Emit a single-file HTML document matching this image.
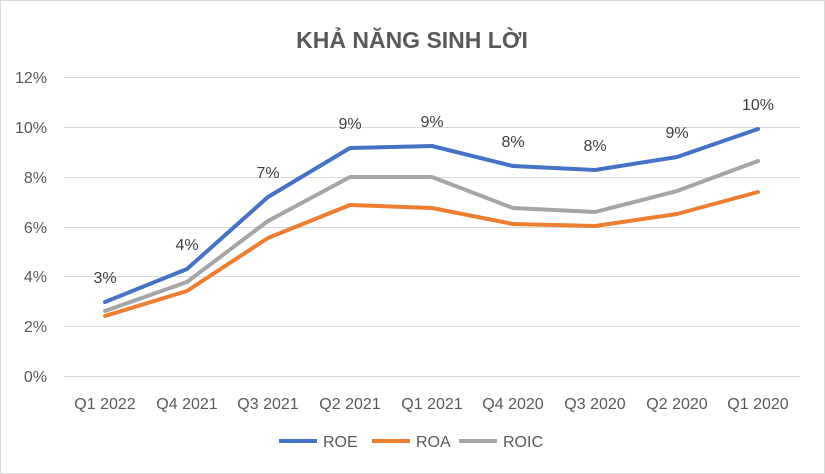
<!DOCTYPE html>
<html><head><meta charset="utf-8"><style>
body{margin:0;background:#fff;}
svg{display:block;font-family:"Liberation Sans","Noto Sans CJK SC",sans-serif;}
</style></head><body>
<svg width="825" height="474" viewBox="0 0 825 474">
<rect x="0.5" y="0.5" width="824" height="473" fill="#fff" stroke="#d9d9d9"/>
<text x="412" y="48" text-anchor="middle" font-size="23" font-weight="bold" fill="#595959">KHẢ NĂNG SINH LỜI</text>
<g stroke="#d9d9d9" stroke-width="1">
<line x1="64" x2="800" y1="77.5" y2="77.5"/>
<line x1="64" x2="800" y1="127.5" y2="127.5"/>
<line x1="64" x2="800" y1="177.5" y2="177.5"/>
<line x1="64" x2="800" y1="227.5" y2="227.5"/>
<line x1="64" x2="800" y1="276.5" y2="276.5"/>
<line x1="64" x2="800" y1="326.5" y2="326.5"/>
<line x1="64" x2="800" y1="376.5" y2="376.5"/>
</g>
<g font-size="16" fill="#595959" text-anchor="end">
<text x="47" y="83">12%</text>
<text x="47" y="133">10%</text>
<text x="47" y="183">8%</text>
<text x="47" y="233">6%</text>
<text x="47" y="282">4%</text>
<text x="47" y="332">2%</text>
<text x="47" y="382">0%</text>
</g>
<g font-size="16" fill="#595959" text-anchor="middle">
<text x="105" y="409">Q1 2022</text>
<text x="187" y="409">Q4 2021</text>
<text x="268" y="409">Q3 2021</text>
<text x="350" y="409">Q2 2021</text>
<text x="432" y="409">Q1 2021</text>
<text x="513" y="409">Q4 2020</text>
<text x="595" y="409">Q3 2020</text>
<text x="677" y="409">Q2 2020</text>
<text x="758" y="409">Q1 2020</text>
</g>
<g fill="none" stroke-width="4" stroke-linejoin="round" stroke-linecap="round">
<polyline stroke="#a5a5a5" points="105,311 187,282 268,221 350,177 432,177 513,208 595,212 677,191 758,161"/>
<polyline stroke="#ed7d31" points="105,316 187,291 268,238 350,205 432,208 513,224 595,226 677,214 758,192"/>
<polyline stroke="#4472c4" points="105,302 187,269 268,197 350,148 432,146 513,166 595,170 677,157 758,129"/>
</g>
<g font-size="16" fill="#404040" text-anchor="middle">
<text x="105" y="283">3%</text>
<text x="187" y="250">4%</text>
<text x="268" y="178">7%</text>
<text x="350" y="129">9%</text>
<text x="432" y="127">9%</text>
<text x="513" y="147">8%</text>
<text x="595" y="151">8%</text>
<text x="677" y="138">9%</text>
<text x="758" y="110">10%</text>
</g>
<g stroke-width="4">
<line x1="279" x2="317" y1="441" y2="441" stroke="#4472c4"/>
<line x1="372" x2="410" y1="441" y2="441" stroke="#ed7d31"/>
<line x1="459" x2="497" y1="441" y2="441" stroke="#a5a5a5"/>
</g>
<g font-size="16" fill="#595959">
<text x="323" y="447">ROE</text>
<text x="416" y="447">ROA</text>
<text x="503" y="447">ROIC</text>
</g>
</svg>
</body></html>
